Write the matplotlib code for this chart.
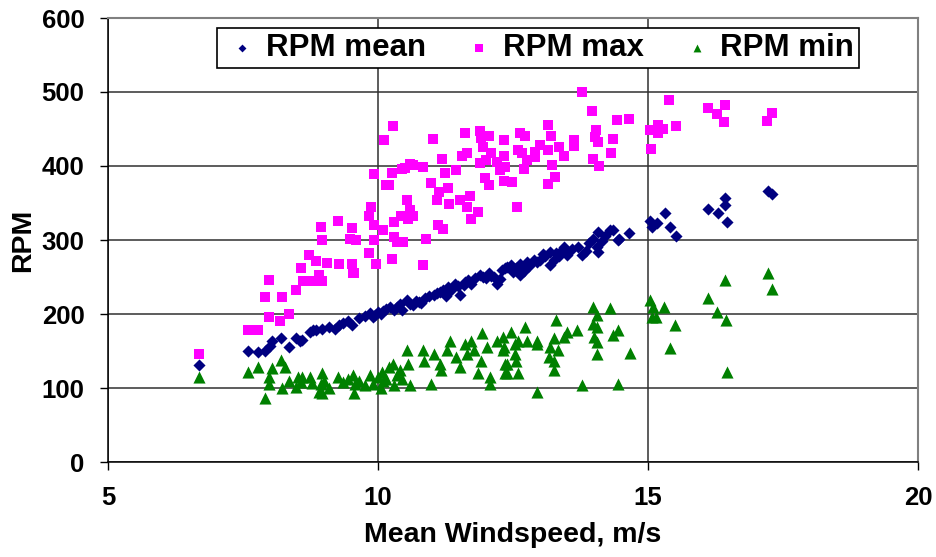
# -*- coding: utf-8 -*-
import matplotlib
matplotlib.use("Agg")
import matplotlib.pyplot as plt
import numpy as np

plt.rcParams['font.family'] = ['Liberation Sans', 'DejaVu Sans']
plt.rcParams['font.weight'] = 'bold'

# RPM mean (wind speed, rpm)
mean_ws = [6.69, 7.59, 7.77, 7.90, 8.00, 8.03, 8.20, 8.35, 8.49, 8.55, 8.59, 8.74, 8.80, 8.86,
           8.97, 9.10, 9.20, 9.27, 9.35, 9.45, 9.51, 9.64, 9.75, 9.85, 9.90, 9.95, 10.00, 10.05,
           10.10, 10.15, 10.22, 10.30, 10.35, 10.41, 10.45, 10.53, 10.60, 10.65, 10.70, 10.75,
           10.80, 10.87, 10.95, 11.03, 11.10, 11.15, 11.21, 11.25, 11.30, 11.35, 11.43, 11.48,
           11.52, 11.59, 11.62, 11.67, 11.72, 11.80, 11.89, 11.95, 12.00, 12.05, 12.10, 12.15,
           12.20, 12.25, 12.29, 12.35, 12.38, 12.47, 12.50, 12.55, 12.63, 12.63, 12.70, 12.75,
           12.80, 12.88, 12.95, 13.00, 13.05, 13.10, 13.19, 13.19, 13.25, 13.30, 13.35, 13.40,
           13.45, 13.50, 13.60, 13.71, 13.77, 13.85, 13.90, 13.99, 14.05, 14.08, 14.08, 14.15,
           14.20, 14.30, 14.36, 14.45, 14.47, 14.65, 15.04, 15.07, 15.16, 15.31, 15.40, 15.52,
           16.12, 16.30, 16.42, 16.43, 16.47, 17.22, 17.30]
mean_rpm = [131, 150, 149, 150, 157, 164, 167, 155, 167, 164, 165, 176, 178, 178,
            180, 182, 180, 185, 188, 190, 185, 194, 197, 201, 196, 198, 203, 200,
            204, 207, 210, 205, 209, 214, 206, 219, 213, 212, 218, 216,
            215, 221, 224, 226, 228, 230, 232, 224, 236, 232, 241, 238,
            226, 239, 243, 246, 240, 249, 253, 250, 248, 255, 252, 250,
            241, 247, 259, 262, 264, 266, 257, 262, 268, 253, 258, 270,
            265, 273, 270, 273, 281, 278, 284, 266, 273, 282, 278, 286,
            291, 280, 288, 291, 280, 285, 296, 302, 291, 284, 311, 298,
            305, 314, 314, 300, 302, 310, 325, 318, 323, 336, 318, 305,
            342, 337, 347, 357, 324, 366, 362]

# RPM max
max_ws = [6.69, 7.60, 7.78, 7.98, 7.90, 8.23, 7.98, 8.19, 8.35, 8.48, 8.57, 8.61, 8.73, 8.78,
          8.80, 8.86, 8.90, 8.96, 9.05, 8.94, 8.97, 9.25, 9.27, 9.51, 9.51, 9.54, 9.48, 9.56,
          9.60, 9.84, 9.87, 9.83, 9.93, 9.96, 9.93, 9.93, 10.10, 10.11, 10.28, 10.14, 10.20,
          10.25, 10.26, 10.30, 10.30, 10.36, 10.42, 10.53, 10.45, 10.60, 10.47, 10.55, 10.65,
          10.84, 10.89, 10.60, 10.50, 10.65, 10.84, 11.01, 10.98, 11.12, 11.13, 11.10, 11.18,
          11.24, 11.30, 11.20, 11.31, 11.45, 11.55, 11.61, 11.65, 11.52, 11.65, 11.70, 11.73,
          11.85, 11.89, 11.90, 12.05, 11.95, 11.89, 11.98, 12.05, 12.00, 12.10, 12.20, 12.25,
          12.33, 12.33, 12.33, 12.35, 12.48, 12.58, 12.63, 12.73, 12.60, 12.66, 12.70, 12.75,
          12.90, 13.00, 12.90, 13.15, 13.20, 13.15, 13.23, 13.28, 13.15, 13.35, 13.45, 13.63,
          13.63, 13.77, 13.97, 14.03, 14.01, 14.07, 13.98, 14.10, 14.36, 14.31, 14.42, 14.65,
          15.06, 15.04, 15.18, 15.18, 15.28, 15.52, 15.39, 16.12, 16.27, 16.42, 16.41, 17.21,
          17.30]
max_rpm = [146, 179, 179, 246, 223, 223, 196, 191, 200, 232, 262, 244, 280, 244,
           245, 271, 253, 244, 269, 318, 300, 325, 268, 316, 267, 256, 302, 255,
           300, 282, 345, 333, 320, 267, 389, 300, 314, 435, 454, 374, 374,
           391, 274, 324, 304, 297, 333, 354, 396, 403, 297, 329, 333,
           266, 302, 340, 397, 402, 399, 436, 377, 320, 365, 354, 410,
           390, 370, 315, 348, 395, 413, 445, 417, 354, 345, 360, 329,
           338, 447, 438, 441, 426, 404, 384, 374, 408, 417, 405, 395,
           435, 414, 380, 399, 378, 344, 444, 441, 421, 417, 396, 408,
           419, 428, 412, 455, 441, 421, 401, 385, 376, 426, 414, 435,
           427, 500, 474, 448, 439, 432, 410, 400, 437, 418, 462, 464,
           423, 449, 456, 445, 450, 454, 489, 478, 470, 482, 460, 461,
           472]

# RPM min
min_ws = [6.69, 7.59, 7.77, 8.03, 7.98, 7.99, 7.90, 8.20, 8.28, 8.35, 8.23, 8.49, 8.52, 8.60,
          8.74, 8.78, 8.90, 8.58, 8.96, 8.94, 8.97, 9.00, 9.10, 9.26, 9.35, 9.45, 9.54, 9.57,
          9.55, 9.65, 9.75, 9.85, 9.90, 10.00, 10.05, 10.07, 10.10, 10.15, 10.20, 10.28, 10.30,
          10.35, 10.41, 10.45, 10.53, 10.56, 10.60, 10.84, 10.85, 10.99, 11.03, 11.15, 11.27,
          11.33, 11.16, 11.45, 11.61, 11.64, 11.52, 11.77, 11.73, 11.92, 11.90, 11.86, 12.01,
          12.07, 12.07, 12.20, 12.33, 12.38, 12.38, 12.47, 12.53, 12.60, 12.32, 12.32, 12.35,
          12.35, 12.53, 12.56, 12.60, 12.72, 12.75, 12.94, 12.94, 12.94, 13.19, 13.16, 13.25,
          13.25, 13.25, 13.30, 13.33, 13.45, 13.50, 13.68, 13.77, 13.99, 14.05, 13.99, 14.05,
          14.00, 14.05, 14.05, 14.30, 14.35, 14.45, 14.67, 14.45, 15.04, 15.07, 15.10, 15.15,
          15.30, 15.50, 15.40, 16.12, 16.27, 16.43, 16.44, 16.47, 17.22, 17.30]
min_rpm = [115, 121, 128, 127, 115, 106, 86, 138, 128, 110, 100, 102, 115, 115,
           115, 107, 95, 108, 120, 106, 93, 110, 100, 115, 108, 112, 118, 106,
           93, 110, 104, 118, 106, 115, 100, 122, 109, 112, 128, 133, 104,
           118, 124, 112, 151, 133, 104, 151, 136, 106, 146, 133, 151,
           163, 124, 142, 160, 146, 129, 151, 163, 174, 137, 120, 155,
           115, 106, 164, 155, 133, 120, 176, 146, 164, 169, 151, 133,
           120, 160, 137, 120, 183, 164, 164, 160, 95, 155, 142, 167,
           137, 124, 192, 151, 169, 176, 178, 104, 210, 198, 187, 183,
           169, 162, 146, 208, 171, 178, 147, 106, 219, 196, 210, 196,
           210, 185, 154, 221, 203, 246, 192, 122, 255, 234]

fig = plt.figure(figsize=(9.36, 5.57), dpi=100)
ax = fig.add_axes([108 / 936, 95 / 557, 810 / 936, 444 / 557])

ax.scatter(mean_ws, mean_rpm, marker='D', s=38, color='#000080', linewidths=0, label='RPM mean', zorder=3)
ax.scatter(max_ws, max_rpm, marker='s', s=62, color='#FF00FF', linewidths=0, label='RPM max', zorder=3)
ax.scatter(min_ws, min_rpm, marker='^', s=76, color='#008000', linewidths=0, label='RPM min', zorder=3)

ax.set_xlim(5, 20)
ax.set_ylim(0, 600)
ax.set_xticks([5, 10, 15, 20])
ax.set_yticks(np.arange(0, 601, 100))
ax.grid(True, color='#303030', linewidth=1.1, zorder=0)
ax.set_axisbelow(True)
ax.tick_params(direction='out', length=6, width=1, labelsize=18.5, pad=11)
for lbl in ax.get_xticklabels() + ax.get_yticklabels():
    lbl.set_fontweight('bold')
for side in ['top', 'right']:
    ax.spines[side].set_color('#808080')
    ax.spines[side].set_linewidth(1.5)
for side in ['left', 'bottom']:
    ax.spines[side].set_color('black')
    ax.spines[side].set_linewidth(1.1)

ax.set_xlabel('Mean Windspeed, m/s', fontsize=20.5, fontweight='bold', labelpad=9)
ax.set_ylabel('RPM', fontsize=20.5, fontweight='bold', labelpad=4)

leg = fig.legend(loc='center', bbox_to_anchor=(538 / 936, 1 - 48 / 557), ncol=3,
                 prop={'size': 22.5, 'weight': 'bold'}, frameon=True, fancybox=False,
                 handletextpad=0.1, columnspacing=1.05, borderpad=0.15, handlelength=1.3,
                 markerscale=0.65)
leg.get_frame().set_edgecolor('black')
leg.get_frame().set_linewidth(1.2)
leg.get_frame().set_alpha(1)

fig.savefig('out.png', dpi=100)
